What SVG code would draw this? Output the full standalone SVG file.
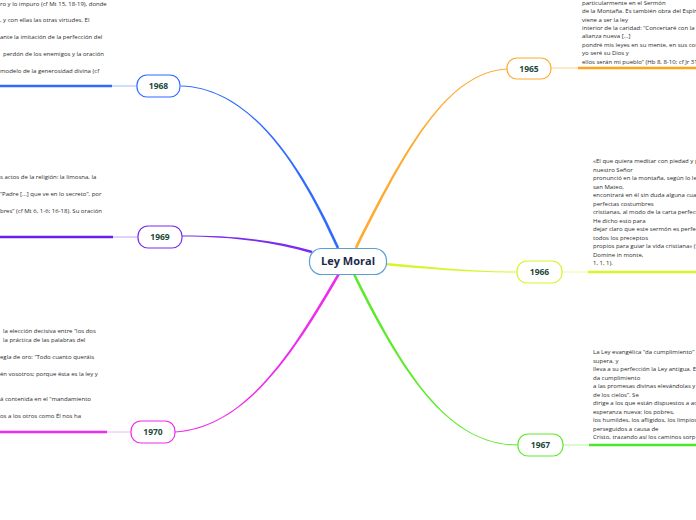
<svg xmlns="http://www.w3.org/2000/svg" width="696" height="520" viewBox="0 0 696 520">
<style>
.t{font-family:"Open Sans","Noto Sans",sans-serif;font-size:6px;fill:#2b2b2b}
.yr{font-family:"Open Sans","Noto Sans",sans-serif;font-size:8.5px;font-weight:bold;fill:#1d4a3a;text-anchor:middle}
.box{fill:#ffffff;stroke-width:1.2}
</style>
<rect width="696" height="520" fill="#ffffff"/>
<g id="connectors">
<path fill="#2f6bff" d="M339.2 247.5 C306.2 174.5 255 87.5 181 85.5 L181 86.5 C255 88.5 303.8 175.5 336.8 248.5 Z"/>
<path fill="#7a2cf0" d="M312.4 250.8 C270.4 238.8 230 235.5 182 235.5 L182 236.5 C230 236.5 269.6 241.3 311.6 253.3 Z"/>
<path fill="#ee2cee" d="M338.9 271.3 C298.9 339.3 250 427.5 175 431.5 L175 432.5 C250 428.5 301.1 340.7 341.1 272.7 Z"/>
<path fill="#ffaa30" d="M357.2 248.5 C406.2 150.5 447 72.5 507 69.5 L507 68.5 C447 71.5 403.8 149.5 354.8 247.5 Z"/>
<path fill="#d6f52a" d="M384.9 265.3 C429.9 269.3 470 272.5 517 272.5 L517 271.5 C470 271.5 430.1 266.7 385.1 262.7 Z"/>
<path fill="#5eea2c" d="M351.8 272.6 C403.8 378.6 450 445.5 518 445.5 L518 444.5 C450 444.5 406.2 377.4 354.2 271.4 Z"/>
</g>
<g id="center">
<rect x="309.5" y="248.5" width="77" height="26" rx="12" fill="#ffffff" stroke="#5a9fd8" stroke-width="1.2"/>
<text x="348" y="265" text-anchor="middle" style="font-family:'Open Sans','Noto Sans',sans-serif;font-size:11px;font-weight:bold;fill:#1b2a4a">Ley Moral</text>
</g>
<g id="n1965">
<line x1="551" y1="68" x2="578" y2="68" stroke="#ffd08a" stroke-width="1"/>
<line x1="578" y1="68" x2="696" y2="68" stroke="#ffa31a" stroke-width="2.5"/>
<rect class="box" x="507" y="58" width="44" height="21" rx="10" stroke="#ffaa30"/>
<text class="yr" x="529" y="71.5">1965</text>
<text class="t" x="582" y="4.7">particularmente en el Sermón</text>
<text class="t" x="582" y="13.1">de la Montaña. Es también obra del Espíri</text>
<text class="t" x="582" y="21.5">viene a ser la ley</text>
<text class="t" x="582" y="29.9">interior de la caridad: “Concertaré con la c</text>
<text class="t" x="582" y="38.3">alianza nueva [...]</text>
<text class="t" x="582" y="46.7">pondré mis leyes en su mente, en sus cor</text>
<text class="t" x="582" y="55.1">yo seré su Dios y</text>
<text class="t" x="582" y="63.5">ellos serán mi pueblo” (Hb 8, 8-10; cf Jr 31</text>
</g>
<g id="n1966">
<line x1="562" y1="272" x2="588" y2="272" stroke="#eefaa0" stroke-width="1"/>
<line x1="588" y1="272" x2="696" y2="272" stroke="#d6f52a" stroke-width="2.5"/>
<rect class="box" x="517" y="261" width="45" height="22" rx="10" stroke="#d6f52a"/>
<text class="yr" x="539.5" y="275">1966</text>
<text class="t" x="593" y="163">«El que quiera meditar con piedad y p</text>
<text class="t" x="593" y="171.5">nuestro Señor</text>
<text class="t" x="593" y="180">pronunció en la montaña, según lo lee</text>
<text class="t" x="593" y="188.5">san Mateo,</text>
<text class="t" x="593" y="197">encontrará en él sin duda alguna cuan</text>
<text class="t" x="593" y="205.5">perfectas costumbres</text>
<text class="t" x="593" y="214">cristianas, al modo de la carta perfect</text>
<text class="t" x="593" y="222.5">He dicho esto para</text>
<text class="t" x="593" y="231">dejar claro que este sermón es perfec</text>
<text class="t" x="593" y="239.5">todos los preceptos</text>
<text class="t" x="593" y="248">propios para guiar la vida cristiana» (S</text>
<text class="t" x="593" y="256.5">Domine in monte,</text>
<text class="t" x="593" y="265">1, 1, 1).</text>
</g>
<g id="n1967">
<line x1="563" y1="445" x2="589" y2="445" stroke="#b5f5a0" stroke-width="1"/>
<line x1="589" y1="445" x2="696" y2="445" stroke="#4ee62a" stroke-width="2.5"/>
<rect class="box" x="518" y="434" width="45" height="22" rx="10" stroke="#5eea2c"/>
<text class="yr" x="540.5" y="448">1967</text>
<text class="t" x="593" y="354">La Ley evangélica “da cumplimiento” p</text>
<text class="t" x="593" y="362.5">supera, y</text>
<text class="t" x="593" y="371">lleva a su perfección la Ley antigua. E</text>
<text class="t" x="593" y="379.5">da cumplimiento</text>
<text class="t" x="593" y="388">a las promesas divinas elevándolas y</text>
<text class="t" x="593" y="396.5">de los cielos”. Se</text>
<text class="t" x="593" y="405">dirige a los que están dispuestos a ac</text>
<text class="t" x="593" y="413.5">esperanza nueva: los pobres,</text>
<text class="t" x="593" y="422">los humildes, los afligidos, los limpios</text>
<text class="t" x="593" y="430.5">perseguidos a causa de</text>
<text class="t" x="593" y="439">Cristo, trazando así los caminos sorp</text>
</g>
<g id="n1968">
<line x1="0" y1="86" x2="112" y2="86" stroke="#2f6bff" stroke-width="2.5"/>
<line x1="112" y1="86" x2="137" y2="86" stroke="#9db8ff" stroke-width="1"/>
<rect class="box" x="137" y="75" width="43" height="22" rx="10" stroke="#2f6bff"/>
<text class="yr" x="158.5" y="89">1968</text>
<text class="t" x="0" y="5.5">ro y lo impuro (cf Mt 15, 18-19), donde</text>
<text class="t" x="0" y="22.4">, y con ellas las otras virtudes. El</text>
<text class="t" x="0" y="39.3">ante la imitación de la perfección del</text>
<text class="t" x="3" y="56.2">perdón de los enemigos y la oración</text>
<text class="t" x="0" y="73.1">modelo de la generosidad divina (cf</text>
</g>
<g id="n1969">
<line x1="0" y1="237" x2="113" y2="237" stroke="#6a1ef2" stroke-width="2.5"/>
<line x1="113" y1="237" x2="138" y2="237" stroke="#c2a4fa" stroke-width="1"/>
<rect class="box" x="138" y="226" width="44" height="22" rx="10" stroke="#7a2cf0"/>
<text class="yr" x="160" y="240">1969</text>
<text class="t" x="0" y="179">s actos de la religión: la limosna, la</text>
<text class="t" x="0" y="196">“Padre [...] que ve en lo secreto”, por</text>
<text class="t" x="0" y="213">bres” (cf Mt 6, 1-6; 16-18). Su oración</text>
</g>
<g id="n1970">
<line x1="0" y1="432" x2="107" y2="432" stroke="#ee2cee" stroke-width="2.5"/>
<line x1="107" y1="432" x2="131" y2="432" stroke="#f8b0f8" stroke-width="1"/>
<rect class="box" x="131" y="421" width="44" height="22" rx="10" stroke="#ee2cee"/>
<text class="yr" x="153" y="435">1970</text>
<text class="t" x="3" y="333">la elección decisiva entre “los dos</text>
<text class="t" x="3" y="342">la práctica de las palabras del</text>
<text class="t" x="0" y="359">egla de oro: “Todo cuanto queráis</text>
<text class="t" x="0" y="376">én vosotros; porque ésta es la ley y</text>
<text class="t" x="0" y="401">á contenida en el “mandamiento</text>
<text class="t" x="0" y="418">os a los otros como Él nos ha</text>
</g>
</svg>
